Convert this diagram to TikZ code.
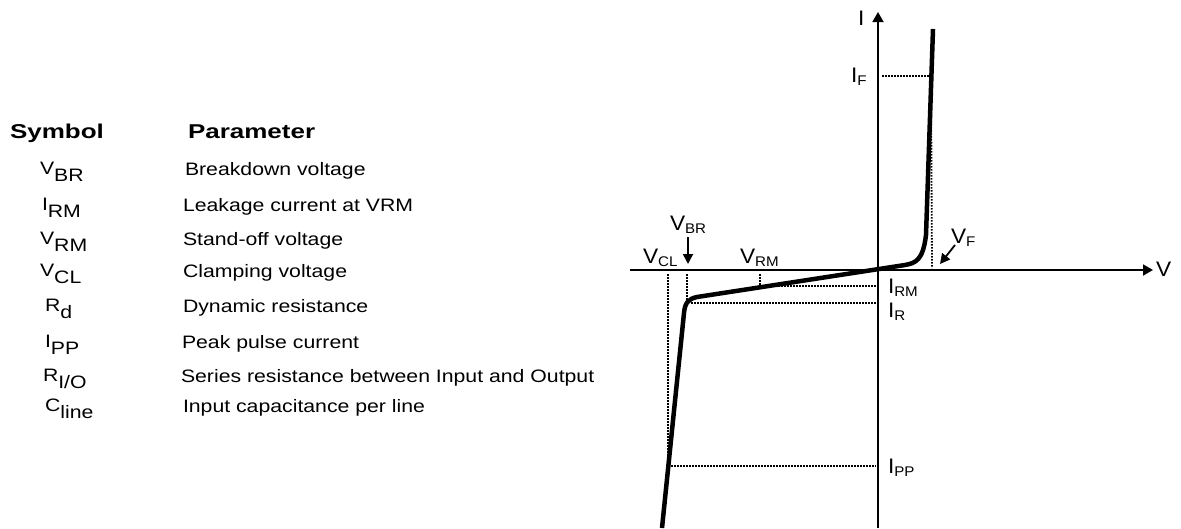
\documentclass[tikz,border=0pt]{standalone}
\usepackage{fontspec}
\setmainfont{Liberation Sans}
\usetikzlibrary{arrows.meta}
\newcommand{\tsym}[2]{\scalebox{1.18}[1]{\fontsize{18}{20}\selectfont #1\raisebox{-7pt}{#2}}}
\newcommand{\ttext}[1]{\scalebox{1.18}[1]{\fontsize{18}{20}\selectfont #1}}
\newcommand{\thead}[1]{\scalebox{1.3}[1]{\fontsize{20}{22}\selectfont\bfseries #1}}
\newcommand{\clab}[2]{\scalebox{1.08}[1]{\fontsize{21}{24}\selectfont #1\raisebox{-3pt}{\fontsize{14}{16}\selectfont #2}}}
\begin{document}
\begin{tikzpicture}[x=1pt,y=-1pt,
  lbl/.style={anchor=base west,inner sep=0pt,outer sep=0pt},
  axis/.style={line width=1.8pt,-{Triangle[length=10pt,width=11pt]}},
  curve/.style={line width=4.5pt,line join=round},
  dots/.style={line width=1.8pt,dash pattern=on 1.5pt off 1.5pt},
  pointer/.style={line width=1.8pt,-{Triangle[length=10pt,width=10pt]}}]
\useasboundingbox (0,0) rectangle (1181,528);
% table
\node[lbl] (hs) at (10,138) {\thead{Symbol}};
\node[lbl] (hp) at (188,138) {\thead{Parameter}};
\node[lbl] (s1) at (40,174) {\tsym{V}{BR}};
\node[lbl] (d1) at (185,175) {\ttext{Breakdown voltage}};
\node[lbl] (s2) at (42,210) {\tsym{I}{RM}};
\node[lbl] (d2) at (183,211) {\ttext{Leakage current at VRM}};
\node[lbl] (s3) at (40,244) {\tsym{V}{RM}};
\node[lbl] (d3) at (183,245) {\ttext{Stand-off voltage}};
\node[lbl] (s4) at (40,276) {\tsym{V}{CL}};
\node[lbl] (d4) at (183,277) {\ttext{Clamping voltage}};
\node[lbl] (s5) at (45,311) {\tsym{R}{d}};
\node[lbl] (d5) at (183,312) {\ttext{Dynamic resistance}};
\node[lbl] (s6) at (45,347) {\tsym{I}{PP}};
\node[lbl] (d6) at (182,348) {\ttext{Peak pulse current}};
\node[lbl] (s7) at (43,381) {\tsym{R}{I/O}};
\node[lbl] (d7) at (181,382) {\ttext{Series resistance between Input and Output}};
\node[lbl] (s8) at (45,411) {\tsym{C}{line}};
\node[lbl] (d8) at (183,412) {\ttext{Input capacitance per line}};
% axes
\coordinate (o) at (878,270);
\coordinate (ybot) at (878,528);
\coordinate (ytop) at (878,12);
\coordinate (xl) at (630,270);
\coordinate (xr) at (1153,270);
\draw[axis] (ybot) -- (ytop);
\draw[axis] (xl) -- (xr);
\node[lbl] (Ilab) at (858,25) {\clab{I}{}};
\node[lbl] (Vlab) at (1156,276) {\clab{V}{}};
% dotted guides
\coordinate (ifa) at (882,76);
\coordinate (ifb) at (931,76);
\coordinate (vfb) at (932,268);
\draw[dots] (ifa) -- (ifb);
\draw[dots] (ifb) -- (vfb);
\coordinate (vcla) at (668,274);
\coordinate (vclb) at (668,466);
\coordinate (ippb) at (876,466);
\draw[dots] (vcla) -- (vclb) -- (ippb);
\coordinate (vbra) at (687,274);
\coordinate (vbrb) at (687,300);
\draw[dots] (vbra) -- (vbrb);
\coordinate (ira) at (691,303);
\coordinate (irb) at (876,303);
\draw[dots] (ira) -- (irb);
\coordinate (vrma) at (760,274);
\coordinate (vrmb) at (760,286);
\coordinate (irmb) at (876,286);
\draw[dots] (vrma) -- (vrmb) -- (irmb);
% characteristic
\draw[curve] (933,29) -- (926,235) .. controls (923,260) and (916,263) .. (905,265)
  -- (697,297) .. controls (688,299) and (685,303) .. (684,313) -- (662,528);
% labels
\node[lbl] (IF) at (851,82) {\clab{I}{F}};
\node[lbl] (VBR) at (670,230) {\clab{V}{BR}};
\node[lbl] (VCL) at (643,263) {\clab{V}{CL}};
\node[lbl] (VRM) at (740,263) {\clab{V}{RM}};
\node[lbl] (VF) at (951,243) {\clab{V}{F}};
\node[lbl] (IRM) at (888,293) {\clab{I}{RM}};
\node[lbl] (IR) at (888,317) {\clab{I}{R}};
\node[lbl] (IPP) at (888,473) {\clab{I}{PP}};
% pointers
\coordinate (vbrt) at (688,264);
\draw[pointer] (688,237) -- (vbrt);
\coordinate (vft) at (940,264);
\draw[pointer] (955,245) -- (vft);
\end{tikzpicture}
\end{document}
